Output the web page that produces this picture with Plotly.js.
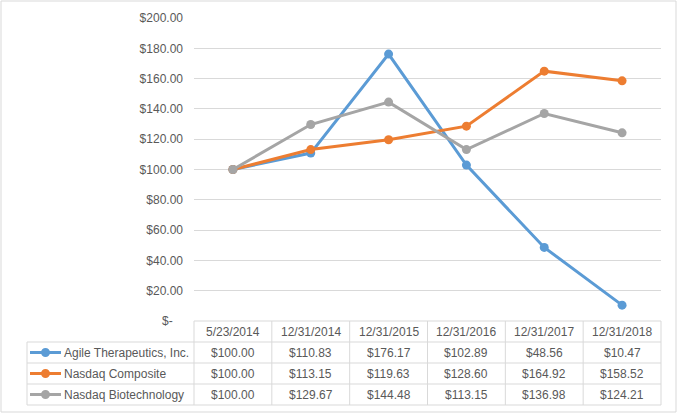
<!DOCTYPE html>
<html>
<head>
<meta charset="utf-8">
<script src="https://cdn.plot.ly/plotly-3.0.1.min.js"></script>
<style>html,body{margin:0;padding:0;background:#fff;}#chart{width:678px;height:414px;}</style>
</head>
<body>
<div id="chart"></div>
<script>
// ---- data ----
const dates = ['5/23/2014','12/31/2014','12/31/2015','12/31/2016','12/31/2017','12/31/2018'];
const seriesNames = ['Agile Therapeutics, Inc.','Nasdaq Composite','Nasdaq Biotechnology'];
const agile = [100.00, 110.83, 176.17, 102.89, 48.56, 10.47];
const composite = [100.00, 113.15, 119.63, 128.60, 164.92, 158.52];
const biotech = [100.00, 129.67, 144.48, 113.15, 136.98, 124.21];
const yTickVals = [0,20,40,60,80,100,120,140,160,180,200];

// ---- style ----
const colors = ['#5b9bd5','#ed7d31','#a5a5a5'];
const textColor = '#595959';
const gridColor = '#d9d9d9';
const FONT = 'Liberation Sans, Arial, sans-serif';

const W = 678, H = 414;
const L = 194, R = 661, T = 18, B = 321;
const px = v => (v - L) / (R - L);
const py = v => (B - v) / (B - T);

const allSeries = [agile, composite, biotech];
const fmt = v => '$' + v.toFixed(2);

const traces = allSeries.map((s, i) => ({
  x: dates, y: s, type: 'scatter', mode: 'lines+markers', name: seriesNames[i],
  line: {color: colors[i], width: 3}, marker: {color: colors[i], size: 9},
  hoverinfo: 'skip'
}));

const shapes = [];
const annotations = [];
const line = (x0,y0,x1,y1,color,width) => shapes.push({type:'line', xref:'paper', yref:'paper',
  x0:px(x0), y0:py(y0), x1:px(x1), y1:py(y1), line:{color:color||gridColor, width:width||1}});

// outer border
shapes.push({type:'rect', xref:'paper', yref:'paper', x0:px(1), y0:py(1), x1:px(676), y1:py(412),
  line:{color:gridColor, width:1}});

// table geometry
const rowY = [321, 342, 363, 384, 405];
const colW = (R - L) / dates.length;
const legendLeft = 27;
line(L, rowY[0], R, rowY[0]);
for (let r = 1; r < rowY.length; r++) line(legendLeft, rowY[r], R, rowY[r]);
line(legendLeft, rowY[1], legendLeft, rowY[4]);
for (let c = 0; c <= dates.length; c++) line(L + c*colW, rowY[0], L + c*colW, rowY[4]);

// header labels
dates.forEach((d, c) => annotations.push({xref:'paper', yref:'paper', x:px(L + (c+0.5)*colW), y:py((rowY[0]+rowY[1])/2),
  text:d, showarrow:false, xanchor:'center', yanchor:'middle', font:{family:FONT, size:12, color:textColor}}));

// body rows
allSeries.forEach((s, r) => {
  const yc = (rowY[r+1] + rowY[r+2]) / 2;
  // legend key
  line(30, yc, 61, yc, colors[r], 3);
  shapes.push({type:'circle', xref:'paper', yref:'paper', x0:px(41), x1:px(50), y0:py(yc-4.5), y1:py(yc+4.5),
    fillcolor:colors[r], line:{color:colors[r], width:0}});
  annotations.push({xref:'paper', yref:'paper', x:px(62), y:py(yc), text:seriesNames[r], showarrow:false,
    xanchor:'left', yanchor:'middle', font:{family:FONT, size:12, color:textColor}});
  s.forEach((v, c) => annotations.push({xref:'paper', yref:'paper', x:px(L + (c+0.5)*colW), y:py(yc),
    text:fmt(v), showarrow:false, xanchor:'center', yanchor:'middle', font:{family:FONT, size:12, color:textColor}}));
});

// "$-" zero label
annotations.push({xref:'paper', yref:'paper', x:px(175), y:py(321), text:'$-', showarrow:false,
  xanchor:'right', yanchor:'middle', font:{family:FONT, size:12, color:textColor}});

const layout = {
  width: W, height: H, autosize: false,
  margin: {l: L, r: W - R, t: T, b: H - B, pad: 0},
  paper_bgcolor: '#fff', plot_bgcolor: '#fff',
  showlegend: false,
  font: {family: FONT, size: 12, color: textColor},
  xaxis: {type:'category', range:[-0.5, 5.5], showticklabels:false, showgrid:false, zeroline:false,
    showline:false, ticks:'', fixedrange:true},
  yaxis: {range:[0, 200], tickvals: yTickVals.slice(1), ticktext: yTickVals.slice(1).map(fmt),
    showgrid:true, gridcolor:gridColor, gridwidth:1, zeroline:false, showline:false, ticks:'',
    ticklabelstandoff: 10, tickfont:{family:FONT, size:12, color:textColor}, fixedrange:true},
  shapes: shapes,
  annotations: annotations
};

Plotly.newPlot('chart', traces, layout, {displayModeBar:false, staticPlot:true});
</script>
</body>
</html>
